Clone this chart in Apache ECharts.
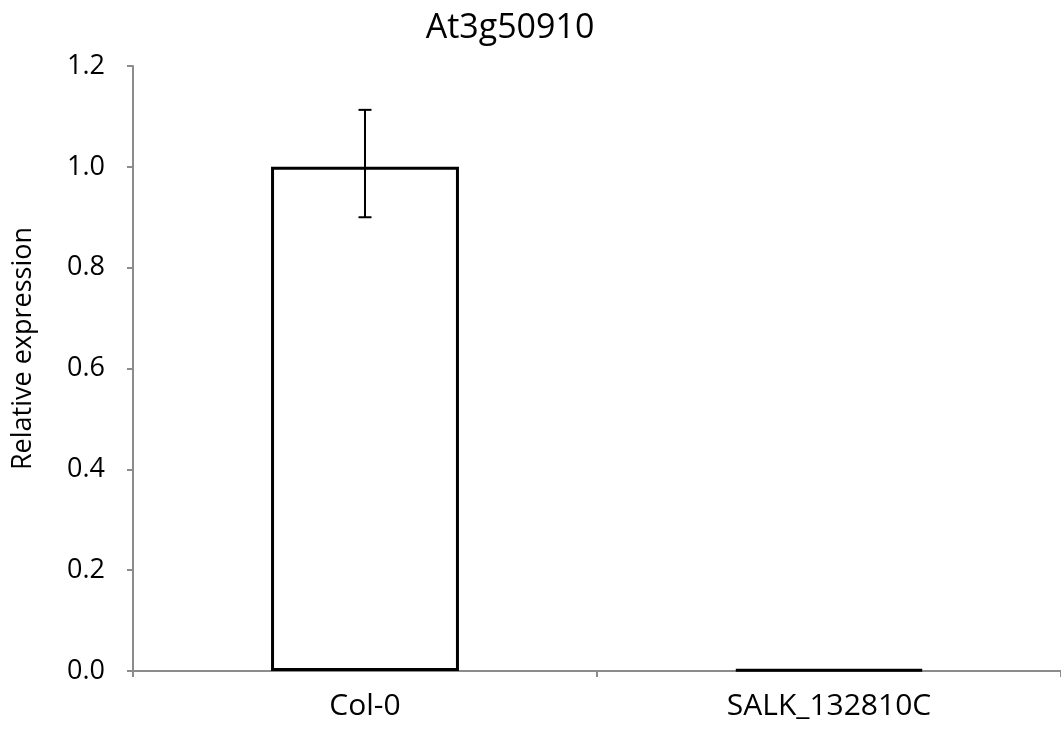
<!DOCTYPE html>
<html><head><meta charset="utf-8">
<script src="https://cdn.jsdelivr.net/npm/echarts@6/dist/echarts.min.js"></script>
<style>html,body{margin:0;padding:0;background:#fff}#c{width:1061px;height:733px}</style>
</head><body><div id="c"></div>
<script>
const categories = ['Col-0', 'SALK_132810C'];
const values = [1.0, 0.003];
const errLow = [0.10, 0];
const errHigh = [0.113, 0];
const yTicks = [0, 0.2, 0.4, 0.6, 0.8, 1.0, 1.2];

const FONT = '"Open Sans", sans-serif';
const chart = echarts.init(document.getElementById('c'));
chart.setOption({
  animation: false,
  title: { text: 'At3g50910', left: 505, top: 6, textAlign: 'center',
    textStyle: { fontFamily: FONT, fontSize: 34, fontWeight: 'normal', color: '#000' } },
  grid: { left: 133, top: 66, width: 932, bottom: 62 },
  xAxis: { type: 'category', data: categories,
    axisLine: { lineStyle: { color: '#8c8c8c', width: 2 } },
    axisTick: { show: true, length: 6, lineStyle: { color: '#8c8c8c', width: 2 } },
    axisLabel: { fontFamily: FONT, fontSize: 30, color: '#000', margin: 20 } },
  yAxis: { type: 'value', min: 0, max: 1.2, interval: 0.2,
    name: 'Relative expression', nameLocation: 'middle', nameGap: 96,
    nameTextStyle: { fontFamily: FONT, fontSize: 27, color: '#000', padding: [0, 0, 0, 40] },
    splitLine: { show: false },
    axisLine: { show: true, lineStyle: { color: '#8c8c8c', width: 2 } },
    axisTick: { show: true, length: 6, lineStyle: { color: '#8c8c8c', width: 2 } },
    axisLabel: { fontFamily: FONT, fontSize: 27, color: '#000', margin: 28,
      formatter: v => yTicks.includes(Math.round(v*10)/10) ? v.toFixed(1) : '' } },
  series: [
    { type: 'bar', data: values, barWidth: '40.5%',
      itemStyle: { color: '#fff', borderColor: '#000', borderWidth: 3 } },
    { type: 'custom', z: 10,
      data: values.map((v, i) => [i, v - errLow[i], v + errHigh[i]]).filter((d, i) => errHigh[i] > 0),
      renderItem: (params, api) => {
        const lo = api.coord([api.value(0), api.value(1)]);
        const hi = api.coord([api.value(0), api.value(2)]);
        const w = 6.5;
        const st = { stroke: '#000', lineWidth: 2 };
        return { type: 'group', children: [
          { type: 'line', shape: { x1: lo[0], y1: lo[1], x2: hi[0], y2: hi[1] }, style: st },
          { type: 'line', shape: { x1: lo[0]-w, y1: lo[1], x2: lo[0]+w, y2: lo[1] }, style: st },
          { type: 'line', shape: { x1: hi[0]-w, y1: hi[1], x2: hi[0]+w, y2: hi[1] }, style: st }
        ]};
      } }
  ]
});
</script></body></html>
